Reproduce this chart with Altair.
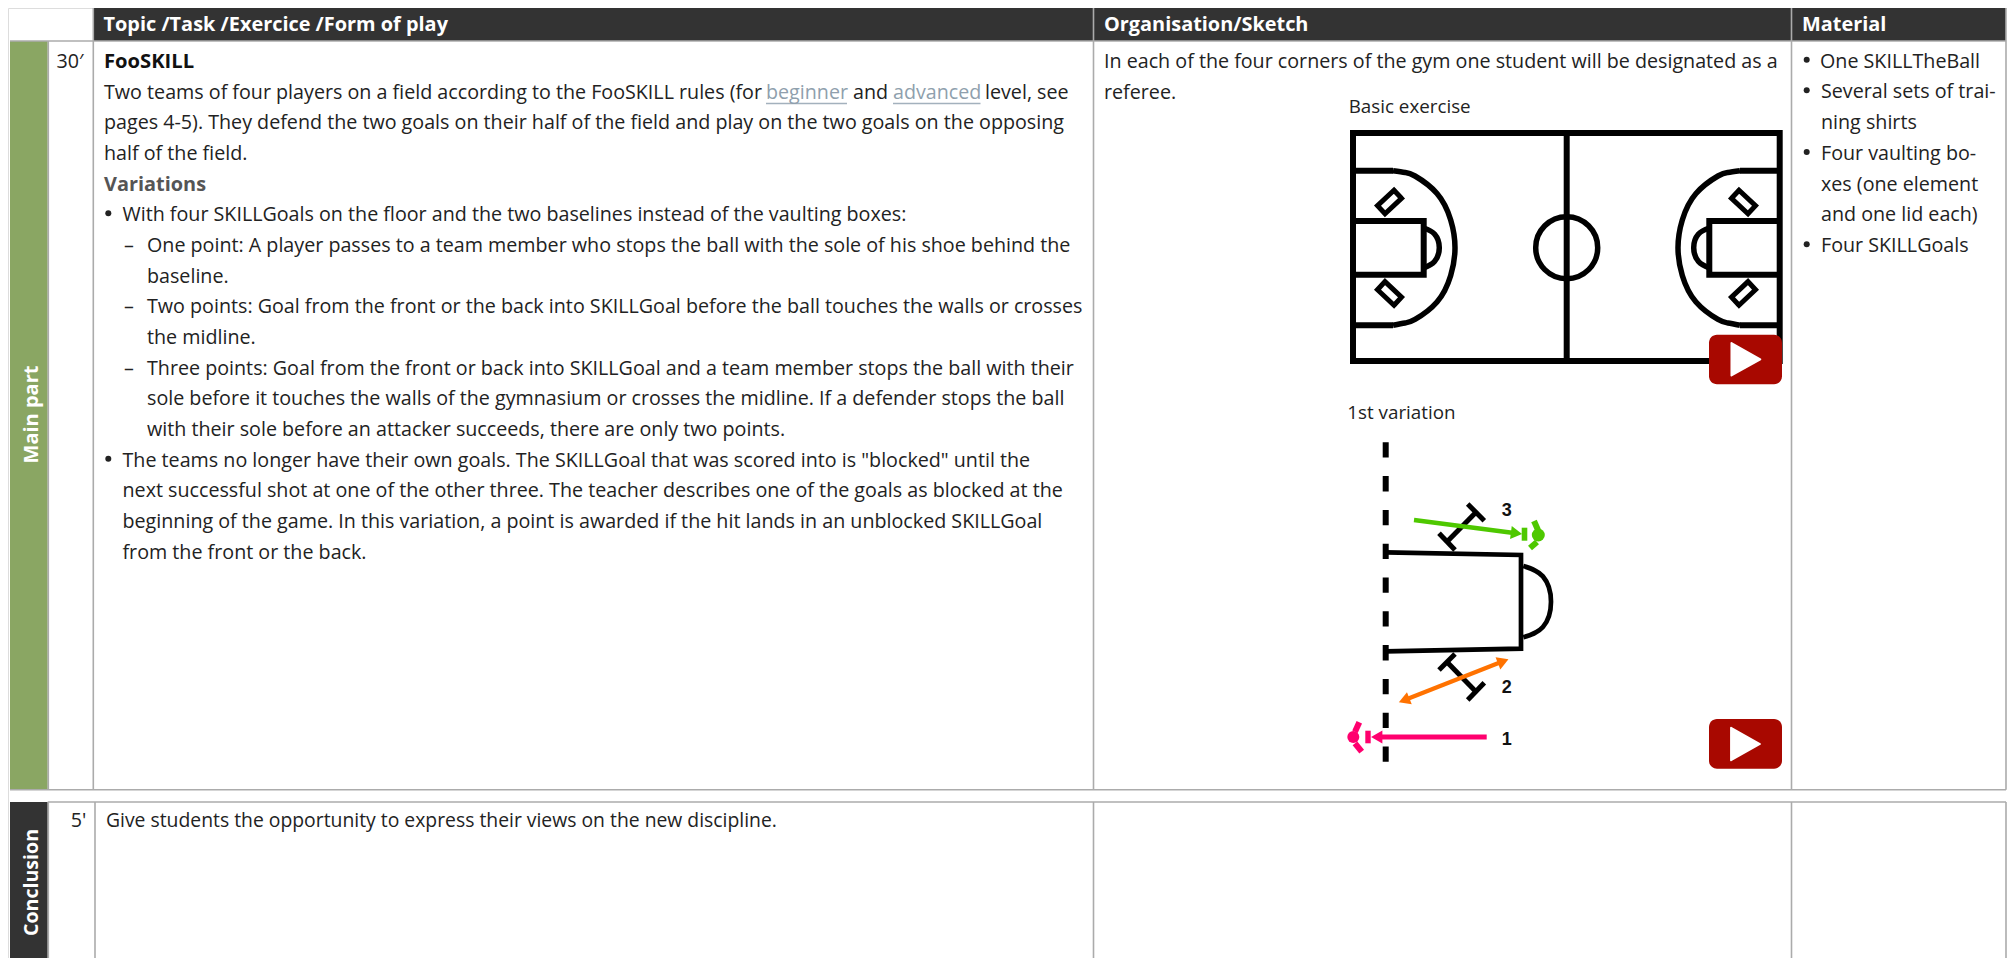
import altair as alt
import pandas as pd

FONT = "Open Sans"
FS = 19.7
INK = "#222222"
GRID = "#ababab"
DARK = "#333333"
GREEN = "#8aa663"
LINK = "#8f9fad"
RED = "#a80800"
LIME = "#4ec800"
ORANGE = "#ff7200"
PINK = "#ff006e"

# ---------- text content ----------
HEADERS = ["Topic /Task /Exercice /Form of play", "Organisation/Sketch", "Material"]
HEADER_X = [103.5, 1104, 1802]

BODY = [
    ("Two teams of four players on a field according to the FooSKILL rules (for", 104, 99),
    ("and", 853, 99),
    ("level, see", 985, 99),
    ("pages 4-5). They defend the two goals on their half of the field and play on the two goals on the opposing", 104, 129.3),
    ("half of the field.", 104, 160),
    ("With four SKILLGoals on the floor and the two baselines instead of the vaulting boxes:", 122.5, 221.3),
    ("–", 124, 252.3),
    ("One point: A player passes to a team member who stops the ball with the sole of his shoe behind the", 147, 252.3),
    ("baseline.", 147, 282.7),
    ("–", 124, 313.3),
    ("Two points: Goal from the front or the back into SKILLGoal before the ball touches the walls or crosses", 147, 313.3),
    ("the midline.", 147, 344),
    ("–", 124, 374.7),
    ("Three points: Goal from the front or back into SKILLGoal and a team member stops the ball with their", 147, 374.7),
    ("sole before it touches the walls of the gymnasium or crosses the midline. If a defender stops the ball", 147, 405.3),
    ("with their sole before an attacker succeeds, there are only two points.", 147, 436),
    ("The teams no longer have their own goals. The SKILLGoal that was scored into is \"blocked\" until the", 122.5, 466.7),
    ("next successful shot at one of the other three. The teacher describes one of the goals as blocked at the", 122.5, 497.3),
    ("beginning of the game. In this variation, a point is awarded if the hit lands in an unblocked SKILLGoal", 122.5, 528),
    ("from the front or the back.", 122.5, 558.7),
    ("In each of the four corners of the gym one student will be designated as a", 1104, 67.7),
    ("referee.", 1104, 99),
    ("One SKILLTheBall", 1820, 67.7),
    ("Several sets of trai-", 1821, 98.3),
    ("ning shirts", 1821, 129.3),
    ("Four vaulting bo-", 1821, 160),
    ("xes (one element", 1821, 190.7),
    ("and one lid each)", 1821, 221.3),
    ("Four SKILLGoals", 1821, 252.3),
    ("30′", 56.5, 67.7),
    ("5'", 70.7, 827.3),
]
NARROW = [("Give students the opportunity to express their views on the new discipline.", 106, 827.3)]
CAPTIONS = [("Basic exercise", 1348.7, 113.3), ("1st variation", 1347.3, 419.3)]
BULLETS = [(108.3, 213.3), (108.3, 458.7), (1806.7, 59.7), (1806.7, 90.3), (1806.7, 152), (1806.7, 244.3)]
LINKS = [("beginner", 766, 99, 847), ("advanced", 893, 99, 980.5)]
NUMS = [("3", 1506.7, 516), ("2", 1506.7, 693), ("1", 1506.7, 744.5)]

# ---------- table geometry ----------
COLS = [93.3, 1093.5, 1791.5, 2006]
CON_COLS = [95, 1093.5, 1791.5, 2006]
TOP, HEAD_B, MAIN_B, CON_T, BOT = 8, 41, 789.8, 802, 958
L_EDGE, SIDE_R = 10, 47.7

RECTS = [
    (93.3, 2006, TOP, HEAD_B, DARK),
    (L_EDGE, SIDE_R, HEAD_B, MAIN_B, GREEN),
    (L_EDGE, SIDE_R, CON_T, BOT, DARK),
    (1521.7, 1527.3, 527.7, 540.7, LIME),
    (1365.3, 1370.7, 730.7, 743.3, PINK),
]
BUTTONS = [(1709, 1782, 334.7, 384.3), (1709, 1782, 719, 768.7)]
RULES_V = ([(x, TOP, MAIN_B) for x in COLS] + [(SIDE_R + 0.6, HEAD_B, MAIN_B)]
           + [(x, CON_T, BOT) for x in CON_COLS] + [(SIDE_R + 0.6, CON_T, BOT)])
RULES_H = [(L_EDGE, 2006, HEAD_B), (L_EDGE, 2006, MAIN_B), (SIDE_R, 2006, CON_T)]

MX, MY = 3133.0, 495.4
COURT = [[(1353, 133), (1779.7, 133), (1779.7, 361), (1353, 361), (1353, 133), (1779.7, 133)]]
MID = [[(1566.7, 133), (1566.7, 361)]]
LEFT_STRAIGHT = [
    [(1353, 170.7), (1393, 170.7)],
    [(1353, 325.3), (1393, 325.3)],
    [(1353, 221), (1423.7, 221), (1423.7, 274.7), (1353, 274.7)],
]
BIG_ARC = [(1393, 170.7), (1405, 172.4), (1415, 176), (1437, 193.5), (1450.7, 220), (1455, 247.7),
           (1450.7, 275.5), (1437, 302), (1415, 319.4), (1405, 323), (1393, 325.3)]
SMALL_ARC = [(1423.7, 228), (1434.5, 234), (1439.3, 247.7), (1434.5, 261.5), (1423.7, 268)]
DIAMOND = [(1394, 190.2), (1401.5, 198.3), (1385, 213.8), (1377.5, 205.7), (1394, 190.2), (1401.5, 198.3)]


def flipx(p):
    return [(MX - x, y) for x, y in p]


def flipy(p):
    return [(x, MY - y) for x, y in p]


COURT_LINES = COURT + MID + LEFT_STRAIGHT + [flipx(p) for p in LEFT_STRAIGHT]
COURT_THIN = [DIAMOND, flipy(DIAMOND), flipx(DIAMOND), flipx(flipy(DIAMOND))]
COURT_ARCS = [BIG_ARC, flipx(BIG_ARC), SMALL_ARC, flipx(SMALL_ARC)]
CIRCLES = [(1566.7, 247.7, 3844)]

GOAL = [[(1385.7, 552.3), (1521, 555), (1521, 648.7), (1385.7, 651.3)]]
BEAMS = [
    [(1439, 533.3), (1455, 550)], [(1467.7, 504), (1484.3, 520.7)], [(1447, 541.7), (1476, 512.3)],
    [(1439, 670), (1455, 654)], [(1467.7, 700), (1484.3, 682.7)], [(1447, 662), (1476, 691.7)],
]
GOAL_ARC = [(1523.3, 566), (1542.9, 576.4), (1551, 601.7), (1542.9, 627), (1523.3, 637.3)]
DASH = [(1385.7, 442.3, 761.7)]
ARROWS = [
    ([(1414, 520), (1514, 533)], LIME, 4.7),
    ([(1404, 700.3), (1503, 661.3)], ORANGE, 4.2),
    ([(1486.7, 737), (1378, 737)], PINK, 5),
]
WINGS = [
    ([(1534, 521), (1538, 530)], LIME), ([(1530, 548), (1537, 542)], LIME),
    ([(1359.3, 722.3), (1355, 731.7)], PINK), ([(1361.7, 751.7), (1355, 743.3)], PINK),
]
HEADS = [
    (1516.5, 533.3, 97.5, LIME), (1503.2, 661.3, 68.5, ORANGE),
    (1404.1, 700.3, 248.5, ORANGE), (1376.7, 737, 270, PINK),
]
BALLS = [(1538.3, 535, 169, LIME), (1353.3, 737, 144, PINK)]
PLAY = [(1745.9, 359.3), (1745.5, 744)]

# ---------- scales ----------
W, H = 1999, 950
XS = alt.Scale(domain=[8, 8 + W], nice=False, zero=False)
YS = alt.Scale(domain=[8 + H, 8], nice=False, zero=False)
X = alt.X("x:Q", scale=XS, axis=None)
Y = alt.Y("y:Q", scale=YS, axis=None)


def paths(ps, color, width, **kw):
    rows = [dict(x=x, y=y, k=k, i=i) for k, p in enumerate(ps) for i, (x, y) in enumerate(p)]
    return alt.Chart(pd.DataFrame(rows)).mark_line(color=color, strokeWidth=width, **kw).encode(
        x=X, y=Y, detail="k:N", order="i:Q")


def text(rows, **kw):
    df = pd.DataFrame(rows, columns=["t", "x", "y"])
    opts = dict(font=FONT, fontSize=FS, color=INK, align="left", baseline="alphabetic")
    opts.update(kw)
    return alt.Chart(df).mark_text(**opts).encode(x=X, y=Y, text="t:N")


rects = alt.Chart(pd.DataFrame(RECTS, columns=["x", "x2", "y", "y2", "c"])).mark_rect().encode(
    x=X, x2="x2:Q", y=Y, y2="y2:Q", color=alt.Color("c:N", scale=None))
rv = alt.Chart(pd.DataFrame(RULES_V, columns=["x", "y", "y2"])).mark_rule(color=GRID, strokeWidth=1.6).encode(
    x=X, y=Y, y2="y2:Q")
rh = alt.Chart(pd.DataFrame(RULES_H, columns=["x", "x2", "y"])).mark_rule(color=GRID, strokeWidth=1.6).encode(
    x=X, x2="x2:Q", y=Y)
ul = alt.Chart(pd.DataFrame([(a, d, c + 4.5) for _, a, c, d in LINKS], columns=["x", "x2", "y"])).mark_rule(
    color="#a3b1bd", strokeWidth=1.4).encode(x=X, x2="x2:Q", y=Y)

bullets = alt.Chart(pd.DataFrame(BULLETS, columns=["x", "y"])).mark_point(
    shape="circle", filled=True, color=INK, size=36, opacity=1).encode(x=X, y=Y)
circle = alt.Chart(pd.DataFrame(CIRCLES, columns=["x", "y", "s"])).mark_point(
    shape="circle", filled=False, color="black", strokeWidth=5.5, opacity=1).encode(
    x=X, y=Y, size=alt.Size("s:Q", scale=None))
dash = alt.Chart(pd.DataFrame(DASH, columns=["x", "y", "y2"])).mark_rule(
    color="black", strokeWidth=6, strokeDash=[15.3, 18.5]).encode(x=X, y=Y, y2="y2:Q")
buttons = alt.Chart(pd.DataFrame(BUTTONS, columns=["x", "x2", "y", "y2"])).mark_rect(
    color=RED, cornerRadius=8).encode(x=X, x2="x2:Q", y=Y, y2="y2:Q")
play = alt.Chart(pd.DataFrame(PLAY, columns=["x", "y"])).mark_point(
    shape="M -0.89 -1 L 0.89 0 L -0.89 1 Z", size=1050, filled=True, color="white", opacity=1,
    stroke="white", strokeWidth=2, strokeJoin="round").encode(x=X, y=Y)
heads = alt.Chart(pd.DataFrame(HEADS, columns=["x", "y", "a", "c"])).mark_point(
    shape="triangle-up", filled=True, size=170, opacity=1).encode(
    x=X, y=Y, angle=alt.Angle("a:Q", scale=None), color=alt.Color("c:N", scale=None))
balls = alt.Chart(pd.DataFrame(BALLS, columns=["x", "y", "s", "c"])).mark_point(
    shape="circle", filled=True, opacity=1).encode(
    x=X, y=Y, size=alt.Size("s:Q", scale=None), color=alt.Color("c:N", scale=None))

layers = [
    rects, rv, rh, ul, bullets,
    text([(HEADERS[i], HEADER_X[i], 30.7) for i in range(3)], fontWeight="bold", color="white", fontSize=19.9),
    text(BODY),
    text(NARROW, fontSize=19.35),
    text(CAPTIONS, fontSize=18.8),
    text([("FooSKILL", 104, 67.7)], fontWeight="bold", color="#111111", fontSize=20.2),
    text([("Variations", 104, 190.7)], fontWeight="bold", color="#555555", fontSize=19.9),
    text([(t, x, y) for t, x, y, _ in LINKS], color=LINK),
    text([("Main part", 37.5, 414.5)], fontWeight="bold", color="white", angle=270, align="center", fontSize=20),
    text([("Conclusion", 37.5, 882.5)], fontWeight="bold", color="white", angle=270, align="center", fontSize=19.6),
    paths(COURT_LINES, "black", 6),
    paths(COURT_THIN, "black", 5),
    paths(COURT_ARCS, "black", 5.5, interpolate="natural"),
    circle, dash,
    paths(GOAL, "black", 4.7),
    paths(BEAMS, "black", 5),
    paths([GOAL_ARC], "black", 4.7, interpolate="natural"),
]
layers += [paths([p], c, w) for p, c, w in ARROWS]
layers += [paths([p], c, 6) for p, c in WINGS]
layers += [heads, balls, buttons, play,
           text(NUMS, font="Liberation Sans", fontWeight="bold", fontSize=18, align="center", color="#111111")]

chart = alt.layer(*layers).properties(
    width=W, height=H, padding=0,
    autosize=alt.AutoSizeParams(type="none", contains="padding"),
).configure_view(stroke=None).configure(background="white")

chart.save("out.html", embed_options={"renderer": "svg", "actions": False})
